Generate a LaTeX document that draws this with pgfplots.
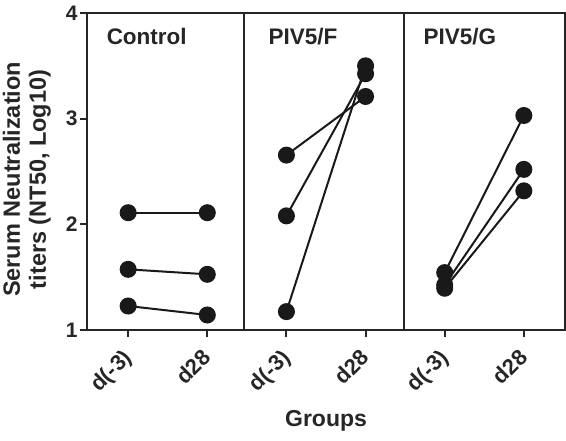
\documentclass[border=0pt]{standalone}
\usepackage{pgfplots}
\pgfplotsset{compat=1.18}
\usepackage{fontspec}
\setmainfont{Liberation Sans}
\pgfplotsset{pt/.style={black!90, solid, line width=2pt, mark=*, mark size=7.5pt, mark options={solid, fill=black!90, draw=black!90}}}
\begin{document}
\begin{tikzpicture}
\begin{axis}[name=ax,
  scale only axis, width=478pt, height=317pt,
  xmin=-0.52, xmax=5.52, ymin=1, ymax=4,
  xtick={0,1,2,3,4,5},
  xticklabels={d(-3),d28,d(-3),d28,d(-3),d28},
  ytick={1,2,3,4},
  tick align=outside, xtick pos=bottom, ytick pos=left,
  major tick length=7pt,
  axis line style={line width=2pt, black!85},
  every tick/.style={black!85, line width=2pt},
  /pgf/number format/assume math mode=true,
  yticklabel style={font=\fontsize{21}{23}\selectfont\bfseries, text=black!85, xshift=1pt},
  xticklabel style={font=\fontsize{22}{24}\selectfont\bfseries, text=black!85,
    xshift=5pt, yshift=-22pt, rotate=45, anchor=base east, inner sep=0pt},
  ylabel={Serum Neutralization\\titers (NT50, Log10)},
  ylabel style={align=center, font=\fontsize{23.5}{26}\selectfont\bfseries, text=black!85,
    at={(axis description cs:-0.068,0.475)}, anchor=south},
  xlabel={Groups},
  xlabel style={font=\fontsize{23}{25}\selectfont\bfseries, text=black!85,
    at={(axis description cs:0.5,-0.2855)}, anchor=center},
  clip=false,
]
% Control
\addplot[pt] coordinates {(0,2.11) (1,2.11)};
\addplot[pt] coordinates {(0,1.574) (1,1.527)};
\addplot[pt] coordinates {(0,1.227) (1,1.142)};
% PIV5/F
\addplot[pt] coordinates {(2,2.655) (3,3.21)};
\addplot[pt] coordinates {(2,2.08) (3,3.425)};
\addplot[pt] coordinates {(2,1.174) (3,3.50)};
% PIV5/G
\addplot[pt] coordinates {(4,1.543) (5,3.03)};
\addplot[pt] coordinates {(4,1.426) (5,2.52)};
\addplot[pt] coordinates {(4,1.395) (5,2.317)};
% dividers
\draw[line width=2pt, black!85] (axis cs:1.47,1) -- (axis cs:1.47,4);
\draw[line width=2pt, black!85] (axis cs:3.49,1) -- (axis cs:3.49,4);
% titles
\node[anchor=west, font=\fontsize{22.5}{24}\selectfont\bfseries, text=black!85] at (axis cs:-0.315,3.78) {Control};
\node[anchor=west, font=\fontsize{22.5}{24}\selectfont\bfseries, text=black!85] at (axis cs:1.73,3.78) {PIV5/F};
\node[anchor=west, font=\fontsize{22.5}{24}\selectfont\bfseries, text=black!85] at (axis cs:3.69,3.78) {PIV5/G};
\end{axis}
\pgfresetboundingbox
\path ([xshift=-87pt,yshift=-111pt]ax.south west) rectangle ([xshift=1pt,yshift=13pt]ax.north east);
\end{tikzpicture}
\end{document}
